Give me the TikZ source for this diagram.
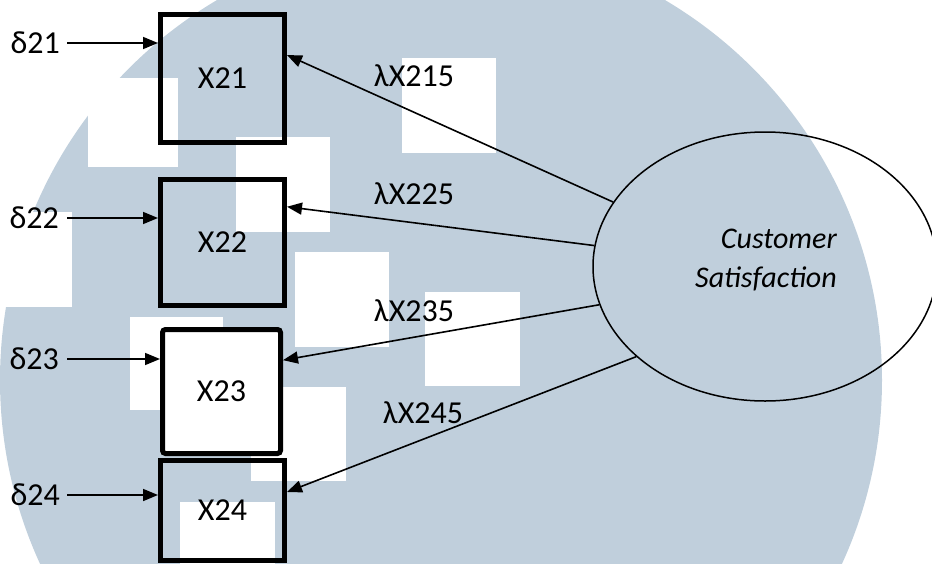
\documentclass[tikz,border=0pt]{standalone}
\usepackage{fontspec}
\setmainfont{Carlito}
\usetikzlibrary{arrows.meta,shapes.geometric}
\definecolor{wmblue}{RGB}{192,207,220}
\begin{document}
\begin{tikzpicture}[x=1pt,y=-1pt,
  box/.style={draw,line width=5pt,minimum width=124pt,minimum height=128pt,inner sep=0pt,font=\fontsize{32}{38}\selectfont},
  lbl/.style={inner sep=0pt,font=\fontsize{32}{38}\selectfont},
  arr/.style={line width=1.6pt,-{Triangle[length=15pt,width=12pt]}},
  sq/.style={fill=white,draw=none}]
\useasboundingbox (0,0) rectangle (932,563);
% watermark background
\begin{scope}
  \clip (0,0) rectangle (932,563);
  \fill[wmblue] (441,380) circle[radius=441];
  \fill[sq] (88,78) rectangle (178,167);
  \fill[sq] (236,137) rectangle (330,232);
  \fill[sq] (402,58) rectangle (496,153);
  \fill[sq] (295,252) rectangle (389,347);
  \fill[sq] (425,292) rectangle (520,386);
  \fill[sq] (130,317) rectangle (223,410);
  \fill[sq] (251,387) rectangle (346,481);
  \fill[sq] (180,502) rectangle (275,597);
  \fill[sq] (-23,212) rectangle (72,307);
\end{scope}
% indicator boxes
\node[box,minimum height=128pt] (x21) at (222.5,78.5) {X21};
\node[box,minimum height=126pt] (x22) at (222.5,242.5) {X22};
\node[box,fill=white,rounded corners=3pt,minimum width=118pt,minimum height=124pt] (x23) at (221.5,391.5) {X23};
\node[box,minimum height=100pt] (x24) at (222.5,510.5) {X24};
% error terms
\node[lbl,anchor=east] (d21) at (60,43) {δ21};
\node[lbl,anchor=east] (d22) at (59,218) {δ22};
\node[lbl,anchor=east] (d23) at (59,359) {δ23};
\node[lbl,anchor=east] (d24) at (60,495) {δ24};
\draw[arr,shorten <=7pt] (d21.east) -- (d21.east -| x21.west);
\draw[arr,shorten <=8pt] (d22.east) -- (d22.east -| x22.west);
\draw[arr,shorten <=8pt] (d23.east) -- (d23.east -| x23.west);
\draw[arr,shorten <=7pt] (d24.east) -- (d24.east -| x24.west);
% latent variable
\node[draw,ellipse,line width=1.5pt,minimum width=344pt,minimum height=269pt,inner sep=0pt] (cs) at (765,266.5) {};
\node[align=right,inner sep=0pt,font=\fontsize{30}{39}\selectfont\itshape] (cst) at (766,260) {Customer\\Satisfaction};
% loadings
\draw[arr] (cs.157.6) -- (x21.20.3);
\draw[arr] (cs.173.5) -- (x22.29.2);
\draw[arr] (cs.193.5) -- (x23.27.9);
\draw[arr] (cs.215.4) -- (x24.16.3);
\node[lbl] (l1) at (414,76) {λX215};
\node[lbl] (l2) at (414,194) {λX225};
\node[lbl] (l3) at (414,311) {λX235};
\node[lbl] (l4) at (423,413) {λX245};
\end{tikzpicture}
\end{document}
